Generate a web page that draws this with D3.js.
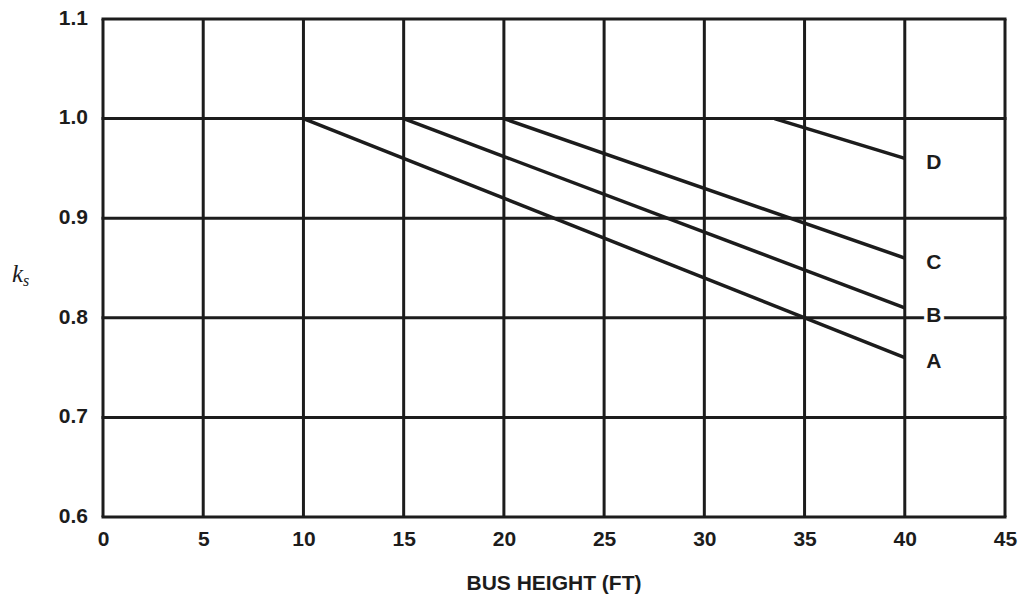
<!DOCTYPE html>
<html><head><meta charset="utf-8">
<script src="https://cdn.jsdelivr.net/npm/d3@7"></script>
<style>body{margin:0;background:#fff}svg{display:block}</style>
</head><body>
<svg id="c" width="1021" height="598"></svg>
<script>
const xTicks = [0,5,10,15,20,25,30,35,40,45];
const yTicks = [0.6,0.7,0.8,0.9,1.0,1.1];
const seriesNames = ["A","B","C","D"];
const startX = [10,15,20,33.5];
const startY = [1.0,1.0,1.0,1.0];
const endX = [40,40,40,40];
const endY = [0.76,0.81,0.86,0.96];

const svg = d3.select("#c");
const m = {l:103, r:1005, t:19, b:517};
const x = d3.scaleLinear().domain([0,45]).range([m.l,m.r]);
const y = d3.scaleLinear().domain([0.6,1.1]).range([m.b,m.t]);
const ink = "#1c1c1c";
const sans = "Arial, 'Liberation Sans', sans-serif";

const g = svg.append("g");
g.selectAll(".vx").data(xTicks).enter().append("line")
 .attr("x1",d=>x(d)).attr("x2",d=>x(d)).attr("y1",y(1.1)).attr("y2",y(0.6))
 .attr("stroke",ink).attr("stroke-width",3);
g.selectAll(".hy").data(yTicks).enter().append("line")
 .attr("x1",x(0)-1.5).attr("x2",x(45)+1.5).attr("y1",d=>y(d)).attr("y2",d=>y(d))
 .attr("stroke",ink).attr("stroke-width",3);

const xa = svg.append("g").attr("transform",`translate(0,${m.b})`)
 .call(d3.axisBottom(x).tickValues(xTicks).tickSize(0).tickPadding(12).tickFormat(d3.format("d")));
const ya = svg.append("g").attr("transform",`translate(${m.l},0)`)
 .call(d3.axisLeft(y).tickValues(yTicks).tickSize(0).tickPadding(15).tickFormat(d3.format(".1f")));
[xa,ya].forEach(a=>{a.select(".domain").remove();
 a.selectAll("text").attr("font-family",sans).attr("font-weight","bold")
  .attr("font-size",21).attr("fill",ink);});
ya.selectAll("text").attr("dy","0.25em");
xa.selectAll("text").attr("dy","0.82em");

seriesNames.forEach((n,i)=>{
  const pts=[[startX[i],startY[i]],[endX[i],endY[i]]];
  svg.append("path").attr("d",d3.line().x(d=>x(d[0])).y(d=>y(d[1]))(pts))
   .attr("fill","none").attr("stroke",ink).attr("stroke-width",3.5);
  svg.append("text").attr("x",x(endX[i])+29).attr("y",y(endY[i])+(n==="B"?9:5))
   .attr("text-anchor","middle").attr("dominant-baseline","middle")
   .attr("font-family",sans).attr("font-weight","bold")
   .attr("font-size",21).attr("fill",ink)
   .attr("stroke",n==="B"?"#fff":"none").attr("stroke-width",n==="B"?7:0).attr("paint-order","stroke")
   .text(n);
});

const yt = svg.append("text").attr("x",12).attr("y",282)
 .attr("font-family","'Liberation Serif', 'DejaVu Serif', serif").attr("font-style","italic")
 .attr("font-size",25).attr("fill",ink);
yt.append("tspan").text("k");
yt.append("tspan").attr("font-size",16).attr("dy",4).text("s");

svg.append("text").attr("x",554).attr("y",590).attr("text-anchor","middle")
 .attr("font-family",sans).attr("font-weight","bold")
 .attr("font-size",21).attr("fill",ink).text("BUS HEIGHT (FT)");
</script>
</body></html>
